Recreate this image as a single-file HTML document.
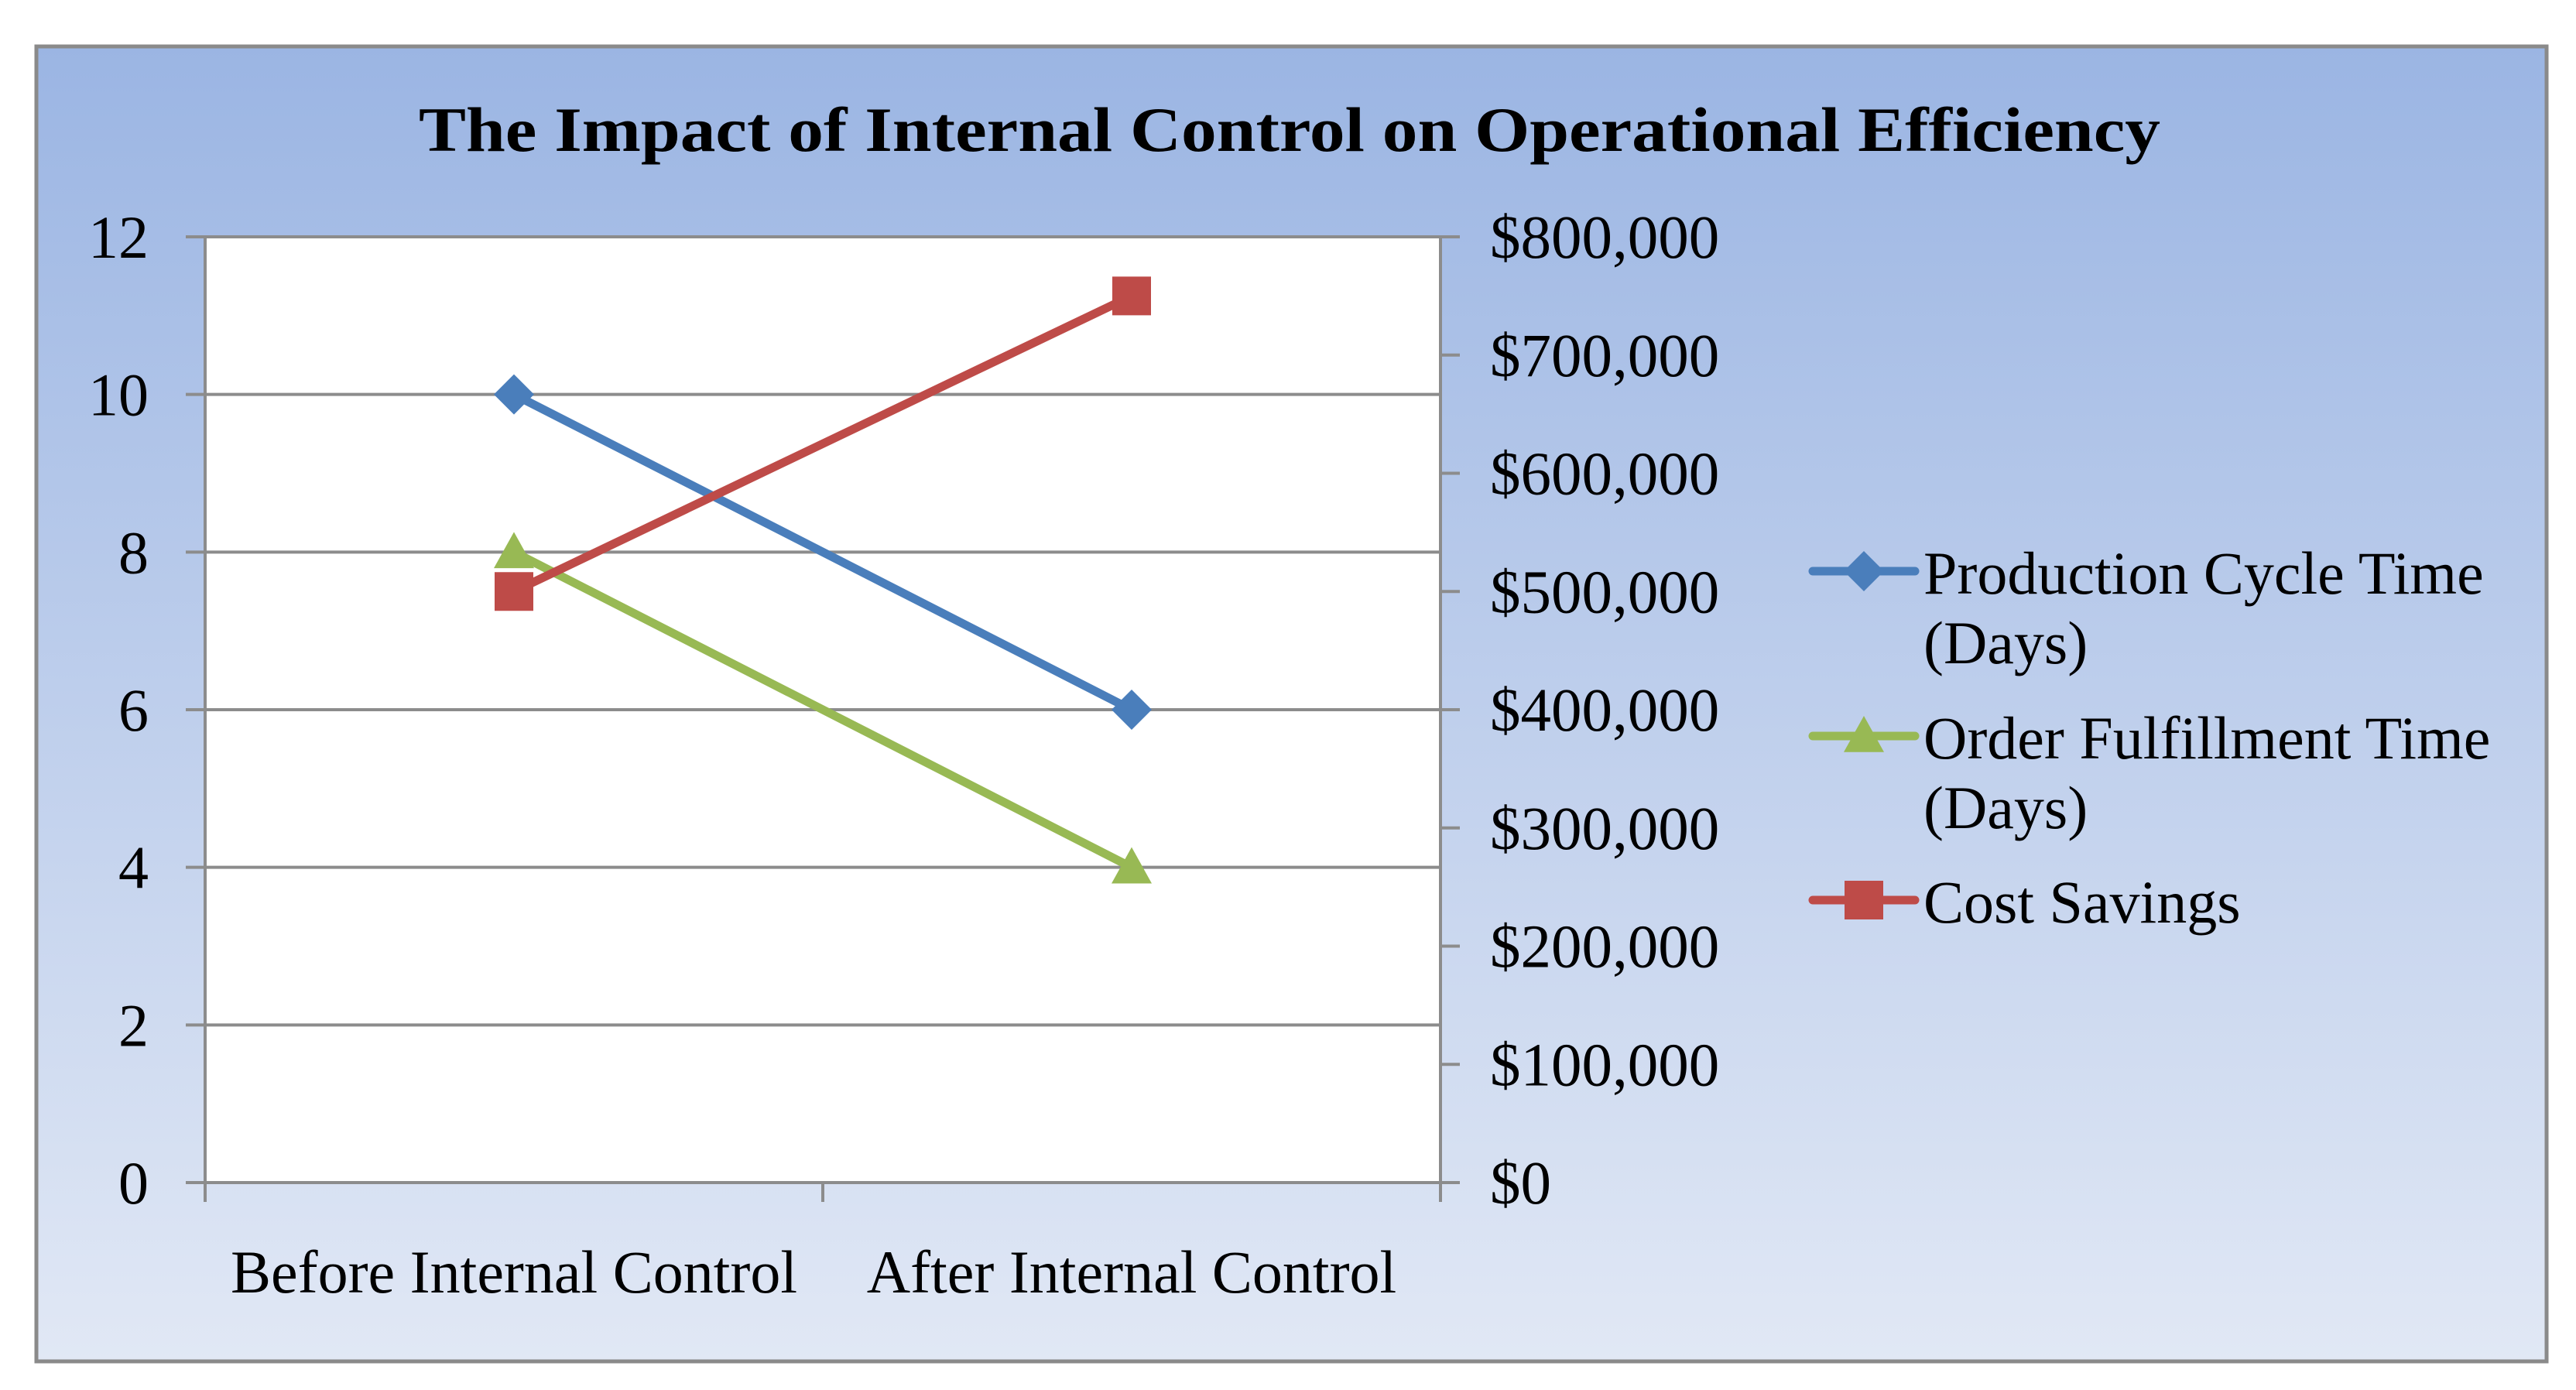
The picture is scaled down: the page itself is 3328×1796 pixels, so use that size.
<!DOCTYPE html>
<html><head><meta charset="utf-8"><style>
html,body{margin:0;padding:0;background:#fff;}
svg{display:block;font-family:"Liberation Serif",serif;}
</style></head><body>
<svg id="chart" width="3328" height="1796" viewBox="0 0 3328 1796" xmlns="http://www.w3.org/2000/svg">
<defs><linearGradient id="bg" x1="0" y1="0" x2="0" y2="1"><stop offset="0" stop-color="#9bb5e3"/><stop offset="1" stop-color="#e1e8f5"/></linearGradient></defs>
<rect x="47" y="60" width="3243" height="1699" fill="url(#bg)" stroke="#8a8a8a" stroke-width="5"/>
<text x="1666" y="195" text-anchor="middle" font-size="82" font-weight="bold" textLength="2250" lengthAdjust="spacingAndGlyphs">The Impact of Internal Control on Operational Efficiency</text>
<rect x="265" y="306" width="1596" height="1222" fill="#fff"/>
<g id="grid"></g><g id="axes"></g><g id="series"></g><g id="legend"></g>
</svg>
<script>
const categories=["Before Internal Control","After Internal Control"];
const productionCycle=[10,6];
const orderFulfillment=[8,4];
const costSavings=[500000,750000];
const leftTicks=[0,2,4,6,8,10,12];
const rightTicks=[0,100000,200000,300000,400000,500000,600000,700000,800000];
const rightTickLabels=["$0","$100,000","$200,000","$300,000","$400,000","$500,000","$600,000","$700,000","$800,000"];
const seriesNames=["Production Cycle Time|(Days)","Order Fulfillment Time|(Days)","Cost Savings"];

const NS="http://www.w3.org/2000/svg";
const L=265,R=1861,T=306,B=1528;
const yL=v=>B-(v/12)*(B-T);
const yR=v=>B-(v/800000)*(B-T);
const xC=i=>L+(i+0.5)*(R-L)/categories.length;
function mk(tag,attrs,parent){const e=document.createElementNS(NS,tag);for(const k in attrs)e.setAttribute(k,attrs[k]);parent.appendChild(e);return e;}
const grid=document.getElementById('grid'),axes=document.getElementById('axes'),ser=document.getElementById('series'),leg=document.getElementById('legend');

leftTicks.forEach(v=>{
  const y=yL(v);
  const g=mk('line',{x1:240,x2:R,y1:y,y2:y,stroke:'#8c8c8c','stroke-width':4},grid);
  
  
  const t=mk('text',{x:192,y:y+27,'text-anchor':'end','font-size':78},axes);
  t.textContent=v;
  
  
});
const la=mk('line',{x1:L,x2:L,y1:T,y2:B+25,stroke:'#8c8c8c','stroke-width':4},axes);


const ra=mk('line',{x1:R,x2:R,y1:T,y2:B+25,stroke:'#8c8c8c','stroke-width':4},axes);


const mid=mk('line',{x1:(L+R)/2,x2:(L+R)/2,y1:B,y2:B+25,stroke:'#8c8c8c','stroke-width':4},axes);


rightTicks.forEach((v,i)=>{
  const y=yR(v);
  const k=mk('line',{x1:R,x2:R+25,y1:y,y2:y,stroke:'#8c8c8c','stroke-width':4},axes);
  
  
  const t=mk('text',{x:1925,y:y+27,'font-size':79},axes);
  t.textContent=rightTickLabels[i];
  
  
});
categories.forEach((c,i)=>{
  const t=mk('text',{x:xC(i),y:1670,'text-anchor':'middle','font-size':78},axes);
  t.textContent=c;
  
  
});

const colors=["#4a7ebb","#98b954","#be4b48"];
function marker(kind,x,y,color,parent,s){
  let e;
  if(kind==='diamond')e=mk('polygon',{points:`${x},${y-s} ${x+s},${y} ${x},${y+s} ${x-s},${y}`,fill:color},parent);
  else if(kind==='triangle')e=mk('polygon',{points:`${x},${y-s} ${x+s},${y+s*0.8} ${x-s},${y+s*0.8}`,fill:color},parent);
  else e=mk('rect',{x:x-s,y:y-s,width:2*s,height:2*s,fill:color},parent);
  return e;
}
const allSeries=[
  {vals:productionCycle,sc:yL,kind:'diamond',s:26,name:'production-cycle'},
  {vals:orderFulfillment,sc:yL,kind:'triangle',s:26,name:'order-fulfillment'},
  {vals:costSavings,sc:yR,kind:'square',s:25,name:'cost-savings'}
];
allSeries.forEach((s,si)=>{
  const pts=s.vals.map((v,i)=>xC(i)+','+s.sc(v)).join(' ');
  const pl=mk('polyline',{points:pts,fill:'none',stroke:colors[si],'stroke-width':11,'stroke-linecap':'round'},ser);
  
  
  s.vals.forEach((v,i)=>{
    const m=marker(s.kind,xC(i),s.sc(v),colors[si],ser,s.s);
    
    
  });
});
const legY=[738,951,1163];
seriesNames.forEach((n,si)=>{
  const y=legY[si];
  const g=mk('g',{},leg);
  
  
  mk('line',{x1:2342,x2:2474,y1:y,y2:y,stroke:colors[si],'stroke-width':11,'stroke-linecap':'round'},g);
  marker(allSeries[si].kind,2408,y,colors[si],g,allSeries[si].kind==='square'?25:26);
  n.split('|').forEach((line,li)=>{
    const t=mk('text',{x:2485,y:y+29+li*90,'font-size':78},g);
    t.textContent=line;
  });
});
</script>
</body></html>
